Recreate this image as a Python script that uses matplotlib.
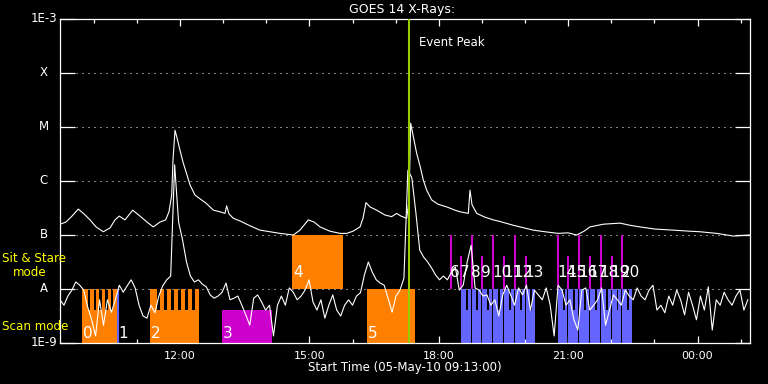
import numpy as np
import matplotlib.pyplot as plt

# x axis: hours after the plot start (05-May-10 09:13:00)
start_clock = 9 + 13 / 60.0
t_span = 16.0

# GOES 14 long channel (1-8 A), log10 of flux in W/m^2
t_long = [0.0, 0.139, 0.278, 0.424, 0.557, 0.696, 0.835, 1.004, 1.159, 1.275,
          1.375, 1.507, 1.686, 1.855, 2.017, 2.163, 2.319, 2.451, 2.527, 2.590,
          2.620, 2.667, 2.713, 2.783, 2.852, 2.922, 3.014, 3.130, 3.246, 3.386,
          3.555, 3.710, 3.826, 3.865, 3.919, 4.019, 4.174, 4.406, 4.638, 4.870,
          5.101, 5.410, 5.565, 5.758, 5.890, 6.029, 6.261, 6.493, 6.648, 6.794,
          6.957, 7.026, 7.096, 7.188, 7.343, 7.536, 7.691, 7.807, 7.907, 8.039,
          8.093, 8.132, 8.193, 8.271, 8.348, 8.424, 8.503, 8.619, 8.765, 8.967,
          9.159, 9.275, 9.468, 9.507, 9.554, 9.662, 9.855, 10.048, 10.203, 10.511,
          10.667, 10.975, 11.246, 11.555, 11.780, 11.981, 12.151, 12.290, 12.598, 12.986,
          13.217, 13.449, 13.797, 14.222, 14.609, 14.841, 15.228, 15.614, 16.0]
log_long = [-6.80, -6.76, -6.65, -6.52, -6.61, -6.72, -6.85, -6.94, -6.87, -6.72,
            -6.65, -6.72, -6.54, -6.65, -6.76, -6.85, -6.76, -6.72, -6.57, -6.26,
            -5.61, -5.06, -5.20, -5.43, -5.65, -5.83, -6.07, -6.26, -6.33, -6.41,
            -6.54, -6.57, -6.60, -6.46, -6.61, -6.69, -6.74, -6.83, -6.91, -6.94,
            -6.97, -7.00, -6.91, -6.72, -6.76, -6.85, -6.93, -6.97, -6.97, -6.93,
            -6.85, -6.69, -6.40, -6.48, -6.54, -6.63, -6.66, -6.60, -6.65, -6.69,
            -6.35, -4.93, -5.18, -5.49, -5.72, -5.98, -6.17, -6.35, -6.43, -6.48,
            -6.54, -6.57, -6.60, -6.17, -6.44, -6.60, -6.67, -6.72, -6.75, -6.82,
            -6.85, -6.91, -6.94, -6.97, -6.96, -7.00, -6.93, -6.85, -6.80, -6.78,
            -6.82, -6.85, -6.89, -6.91, -6.93, -6.94, -6.97, -7.02, -7.00]

# GOES 14 short channel (0.5-4 A), one sample every 5.5 min, log10 W/m^2
short_step_min = 5.5
log_short = [-8.20, -8.30, -8.13, -8.02, -7.87, -7.93, -8.02, -8.33, -8.57, -8.87,
             -8.20, -8.67, -8.20, -8.43, -8.20, -7.93, -8.06, -7.94, -7.83, -7.98,
             -8.30, -8.50, -8.54, -8.30, -8.44, -8.13, -7.94, -7.83, -7.76, -5.70,
             -6.76, -7.09, -7.50, -7.76, -7.87, -7.83, -7.91, -7.96, -8.11, -8.17,
             -8.13, -8.06, -7.89, -8.20, -8.17, -8.13, -8.30, -8.48, -8.67, -8.17,
             -8.11, -8.24, -8.39, -8.30, -8.87, -8.30, -8.13, -8.30, -7.98, -8.06,
             -8.20, -8.13, -8.02, -7.83, -8.24, -8.39, -8.20, -8.54, -8.30, -8.11,
             -8.39, -8.50, -8.30, -8.20, -8.30, -8.13, -8.07, -7.74, -7.50, -7.69,
             -7.83, -7.89, -7.93, -8.17, -8.43, -8.13, -8.02, -7.80, -5.80, -5.94,
             -6.57, -7.28, -7.41, -7.50, -7.61, -7.74, -7.83, -7.76, -7.83, -7.69,
             -7.59, -8.02, -7.93, -7.50, -7.19, -7.98, -8.02, -8.13, -8.11, -8.30,
             -8.20, -8.50, -8.11, -7.93, -8.11, -8.30, -7.98, -8.11, -7.93, -8.39,
             -8.02, -8.11, -8.20, -7.98, -8.30, -8.87, -7.93, -8.02, -8.30, -8.20,
             -8.57, -8.76, -8.02, -7.98, -8.39, -8.30, -8.20, -7.98, -8.67, -8.39,
             -8.11, -8.20, -8.30, -8.02, -8.13, -8.20, -7.98, -8.13, -8.20, -8.02,
             -7.93, -8.39, -8.30, -8.44, -8.13, -8.30, -8.02, -8.20, -8.48, -8.06,
             -8.30, -8.57, -8.13, -8.39, -7.96, -8.76, -8.20, -8.30, -8.06, -8.20,
             -8.30, -8.13, -8.02, -8.39, -8.20]
t_short = np.arange(len(log_short)) * short_step_min / 60.0

event_peak = 8.086

# IRIS-style rasters 0..5 (hours after start)
raster_label = ['0', '1', '2', '3', '4', '5']
raster_start = [0.51, 1.32, 2.087, 3.757, 5.38, 7.119]
raster_end = [1.32, 1.375, 3.223, 4.916, 6.555, 8.232]
raster_mode = ['scan', 'scan', 'scan', 'scan', 'sit', 'scan']
raster_color = ['#ff8000', '#6464ff', '#ff8000', '#cc00cc', '#ff8000', '#ff8000']
raster_steps = [6, 1, 7, 0, 1, 1]

# sit & stare markers 6..20
ss_label = [str(i) for i in range(6, 21)]
ss_time = [9.067, 9.299, 9.547, 9.786, 10.041, 10.296, 10.544, 10.799,
           11.548, 11.787, 12.035, 12.283, 12.538, 12.793, 13.039]
ss_top = [1e-7, 4e-8, 1e-7, 4e-8, 1e-7, 4e-8, 1e-7, 4e-8,
          1e-7, 4e-8, 1e-7, 4e-8, 1e-7, 4e-8, 1e-7]

# blue scan blocks that go with 6..20
blue_start = [9.299, 9.547, 9.786, 10.041, 10.296, 10.544, 10.799,
              11.548, 11.787, 12.035, 12.283, 12.538, 12.793, 13.039]
blue_end = [9.525, 9.764, 10.019, 10.274, 10.522, 10.777, 11.014,
            11.765, 12.013, 12.261, 12.516, 12.771, 13.017, 13.264]

level_names = ['1E-9', 'A', 'B', 'C', 'M', 'X', '1E-3']
level_values = [1e-9, 1e-8, 1e-7, 1e-6, 1e-5, 1e-4, 1e-3]
xtick_labels = ['12:00', '15:00', '18:00', '21:00', '00:00']

scan_lo, scan_hi = 1e-9, 1e-8
sit_lo, sit_hi = 1e-8, 1e-7
floor_hi = 4.1e-9

fig = plt.figure(figsize=(7.68, 3.84), dpi=100, facecolor='black')
ax = fig.add_axes([60 / 768, 41 / 384, 690 / 768, 324 / 384], facecolor='black')
ax.set_yscale('log')
ax.set_xlim(0, t_span)
ax.set_ylim(1e-9, 1e-3)


def draw_raster(s, e, n, mode, color):
    lo, hi = (scan_lo, scan_hi) if mode == 'scan' else (sit_lo, sit_hi)
    kw = dict(align='edge', color=color, linewidth=0, zorder=2)
    if n == 0:
        ax.bar(s, floor_hi - lo, width=e - s, bottom=lo, **kw)
    elif n == 1:
        ax.bar(s, hi - lo, width=e - s, bottom=lo, **kw)
    else:
        ax.bar(s, floor_hi - lo, width=e - s, bottom=lo, **kw)
        w = (e - s) / n
        for i in range(n):
            x0 = s + i * w + (0.4 * w if i > 0 else 0)
            ax.bar(x0, hi - lo, width=s + (i + 1) * w - x0, bottom=lo, **kw)


for s, e, n, m, c in zip(raster_start, raster_end, raster_steps, raster_mode, raster_color):
    draw_raster(s, e, n, m, c)
for s, e in zip(blue_start, blue_end):
    draw_raster(s, e, 2, 'scan', '#6464ff')

ax.vlines(ss_time, 1e-8, ss_top, color='#cc00cc', lw=1.5, zorder=3)

# dotted class lines
for v in level_values[1:-1]:
    ax.axhline(v, xmin=0.023, xmax=0.977, color='white', lw=0.72,
               linestyle=(0, (1, 5)), zorder=1)

ax.plot(t_long, 10 ** np.array(log_long), color='white', lw=0.8, zorder=4)
ax.plot(t_short, 10 ** np.array(log_short), color='white', lw=0.8, zorder=4)

ax.axvline(event_peak, color='#99cc00', lw=1.5, zorder=5)
ax.annotate('Event Peak', (event_peak, 10 ** -3.44), xytext=(7.5, 0),
            textcoords='offset points', color='white', fontsize=8.5, va='center')

# raster numbers
for lbl, s, m in zip(raster_label, raster_start, raster_mode):
    y = 1.53e-9 if m == 'scan' else 2.05e-8
    ax.annotate(lbl, (s, y), xytext=(0.7, 0), textcoords='offset points',
                color='white', fontsize=11, va='center', ha='left', zorder=6)
for lbl, t in zip(ss_label, ss_time):
    ax.annotate(lbl, (t, 2.0e-8), xytext=(-0.7, 0), textcoords='offset points',
                color='white', fontsize=11, va='center', ha='left', zorder=6)

# axes styling
for sp in ax.spines.values():
    sp.set_color('white')
    sp.set_linewidth(0.9)

major_t = [(int(l[:2]) - start_clock) % 24 for l in xtick_labels]
minor_t = [(h - start_clock) % 24 for h in range(24) if (h - start_clock) % 24 < t_span]
ax.set_xticks(major_t)
ax.set_xticklabels(xtick_labels)
ax.set_xticks(minor_t, minor=True)
ax.tick_params(axis='x', which='major', direction='in', length=5, width=0.9,
               top=True, colors='white', labelsize=8, pad=6)
ax.tick_params(axis='x', which='minor', direction='in', length=3, width=0.9,
               top=True, colors='white')
ax.set_yticks(level_values)
ax.set_yticklabels([])
ax.yaxis.set_minor_locator(plt.NullLocator())
ax.tick_params(axis='y', which='major', direction='in', length=10.8, width=0.9,
               right=True, colors='white')
for name, v in zip(level_names, level_values):
    ax.text(-0.0232, v, name, transform=ax.get_yaxis_transform(), color='white',
            fontsize=8.5, ha='center', va='center')

fig.text(402 / 768, 1 - 9.5 / 384, 'GOES 14 X-Rays:', color='white', fontsize=9,
         ha='center', va='center')
fig.text(405 / 768, 1 - 368 / 384, 'Start Time (05-May-10 09:13:00)', color='white',
         fontsize=8.5, ha='center', va='center')
fig.text(2 / 768, 1 - 258 / 384, 'Sit & Stare', color='#ffff00', fontsize=8.6,
         ha='left', va='center')
fig.text(13 / 768, 1 - 272 / 384, 'mode', color='#ffff00', fontsize=8.6,
         ha='left', va='center')
fig.text(2 / 768, 1 - 326 / 384, 'Scan mode', color='#ffff00', fontsize=8.6,
         ha='left', va='center')

fig.savefig('out.png', dpi=100, facecolor='black')
